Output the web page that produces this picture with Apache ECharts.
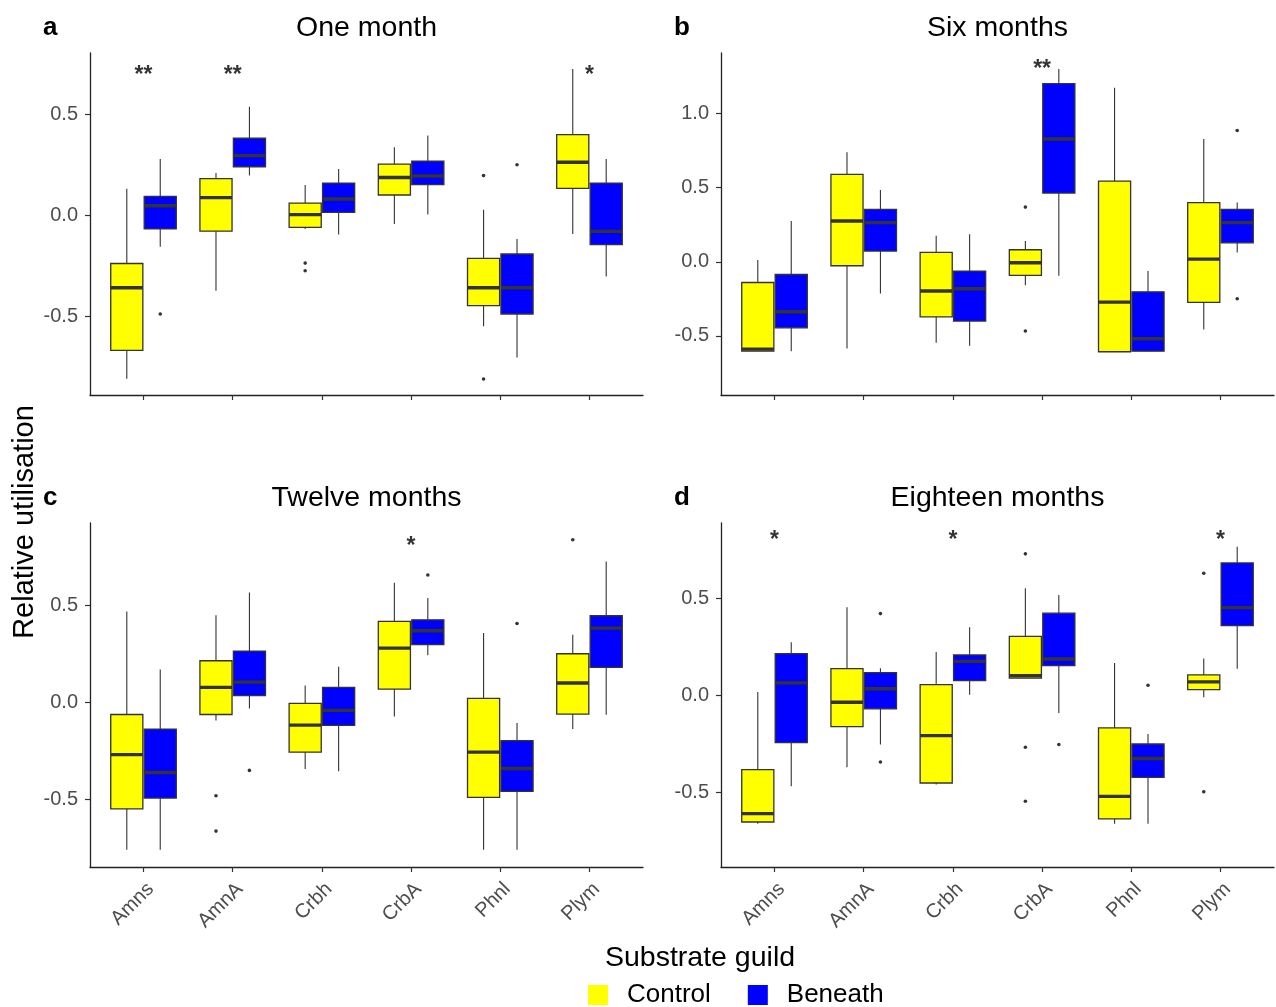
<!DOCTYPE html>
<html>
<head>
<meta charset="utf-8">
<script src="https://cdn.jsdelivr.net/npm/echarts/dist/echarts.min.js"></script>
<style>
html,body{margin:0;padding:0;background:#fff;}
#chart{width:1276px;height:1007px;}
</style>
</head>
<body>
<div id="chart"></div>
<script>
// ---------------- DATA ----------------
const categories = ['Amns', 'AmnA', 'Crbh', 'CrbA', 'Phnl', 'Plym'];
const groups = ['Control', 'Beneath'];
const panelTitles = ['One month', 'Six months', 'Twelve months', 'Eighteen months'];
const panelLetters = ['a', 'b', 'c', 'd'];
const yTicksAC = [-0.5, 0, 0.5];
const yTicksB = [-0.5, 0, 0.5, 1.0];

// each box: [lower whisker, Q1, median, Q3, upper whisker]
const oneMonthControl = [
  [-0.81, -0.67, -0.36, -0.24, 0.13],
  [-0.375, -0.08, 0.086, 0.18, 0.208],
  [-0.069, -0.061, 0.002, 0.059, 0.149],
  [-0.045, 0.099, 0.186, 0.252, 0.335],
  [-0.551, -0.449, -0.36, -0.215, 0.026],
  [-0.094, 0.132, 0.261, 0.398, 0.723]
];
const oneMonthBeneath = [
  [-0.157, -0.069, 0.046, 0.092, 0.277],
  [0.196, 0.239, 0.294, 0.38, 0.536],
  [-0.097, 0.013, 0.079, 0.158, 0.228],
  [0.003, 0.15, 0.193, 0.267, 0.394],
  [-0.705, -0.49, -0.36, -0.193, -0.119],
  [-0.304, -0.147, -0.081, 0.158, 0.277]
];
const oneMonthControlOutliers = [[2, -0.238], [2, -0.276], [4, 0.195], [4, -0.812]];
const oneMonthBeneathOutliers = [[0, -0.49], [4, 0.249]];
const oneMonthSig = ['**', '**', '', '', '', '*'];
const oneMonthSigY = 0.71;

const sixMonthsControl = [
  [-0.604, -0.604, -0.59, -0.14, 0.011],
  [-0.586, -0.027, 0.275, 0.59, 0.739],
  [-0.547, -0.372, -0.198, 0.063, 0.176],
  [-0.158, -0.092, -0.007, 0.081, 0.14],
  [-0.608, -0.608, -0.273, 0.545, 1.176],
  [-0.457, -0.275, 0.018, 0.399, 0.829]
];
const sixMonthsBeneath = [
  [-0.604, -0.446, -0.338, -0.086, 0.275],
  [-0.214, 0.072, 0.264, 0.354, 0.484],
  [-0.568, -0.401, -0.182, -0.063, 0.185],
  [-0.095, 0.464, 0.829, 1.203, 1.302],
  [-0.604, -0.604, -0.52, -0.203, -0.063],
  [0.063, 0.128, 0.264, 0.354, 0.401]
];
const sixMonthsControlOutliers = [[3, 0.369], [3, -0.468]];
const sixMonthsBeneathOutliers = [[5, 0.887], [5, -0.25]];
const sixMonthsSig = ['', '', '', '**', '', ''];
const sixMonthsSigY = 1.322;

const twelveMonthsControl = [
  [-0.761, -0.55, -0.271, -0.064, 0.467],
  [-0.095, -0.064, 0.076, 0.213, 0.448],
  [-0.345, -0.258, -0.119, -0.007, 0.086],
  [-0.074, 0.067, 0.278, 0.416, 0.615],
  [-0.761, -0.491, -0.258, 0.019, 0.356],
  [-0.139, -0.062, 0.098, 0.249, 0.347]
];
const twelveMonthsBeneath = [
  [-0.761, -0.495, -0.363, -0.139, 0.168],
  [-0.033, 0.033, 0.103, 0.263, 0.565],
  [-0.357, -0.12, -0.043, 0.076, 0.182],
  [0.241, 0.296, 0.368, 0.424, 0.536],
  [-0.761, -0.46, -0.342, -0.199, -0.108],
  [-0.065, 0.179, 0.381, 0.445, 0.725]
];
const twelveMonthsControlOutliers = [[1, -0.483], [1, -0.665], [5, 0.837]];
const twelveMonthsBeneathOutliers = [[1, -0.352], [3, 0.655], [4, 0.405]];
const twelveMonthsSig = ['', '', '', '*', '', ''];
const twelveMonthsSigY = 0.82;

const eighteenMonthsControl = [
  [-0.662, -0.653, -0.61, -0.383, 0.017],
  [-0.371, -0.162, -0.036, 0.137, 0.454],
  [-0.46, -0.452, -0.208, 0.055, 0.223],
  [0.088, 0.088, 0.101, 0.304, 0.552],
  [-0.662, -0.637, -0.521, -0.168, 0.167],
  [-0.01, 0.029, 0.069, 0.105, 0.189]
];
const eighteenMonthsBeneath = [
  [-0.469, -0.244, 0.064, 0.215, 0.273],
  [-0.253, -0.07, 0.034, 0.117, 0.139],
  [0.003, 0.076, 0.175, 0.208, 0.351],
  [-0.091, 0.153, 0.187, 0.423, 0.517],
  [-0.662, -0.423, -0.326, -0.251, -0.199],
  [0.137, 0.359, 0.452, 0.682, 0.765]
];
const eighteenMonthsControlOutliers = [[3, 0.729], [3, -0.268], [3, -0.546], [5, 0.629], [5, -0.497]];
const eighteenMonthsBeneathOutliers = [[1, 0.421], [1, -0.344], [3, -0.254], [4, 0.052]];
const eighteenMonthsSig = ['*', '', '*', '', '', '*'];
const eighteenMonthsSigY = 0.82;

// ---------------- LAYOUT / STYLE ----------------
const FONT = '"Liberation Sans", Arial, sans-serif';
const COLORS = { Control: '#FFFF00', Beneath: '#0000FF' };
const DODGE = 0.1875;
const BOX_W = 0.36;
const GRID_W = 553;
const panels = [
  { control: oneMonthControl, beneath: oneMonthBeneath, cOut: oneMonthControlOutliers, bOut: oneMonthBeneathOutliers,
    sig: oneMonthSig, sigY: oneMonthSigY, left: 90, top: 53, height: 342, yMin: -0.891, yMax: 0.802, ticks: yTicksAC, showX: false },
  { control: sixMonthsControl, beneath: sixMonthsBeneath, cOut: sixMonthsControlOutliers, bOut: sixMonthsBeneathOutliers,
    sig: sixMonthsSig, sigY: sixMonthsSigY, left: 721, top: 53, height: 342, yMin: -0.90, yMax: 1.41, ticks: yTicksB, showX: false },
  { control: twelveMonthsControl, beneath: twelveMonthsBeneath, cOut: twelveMonthsControlOutliers, bOut: twelveMonthsBeneathOutliers,
    sig: twelveMonthsSig, sigY: twelveMonthsSigY, left: 90, top: 523, height: 344, yMin: -0.85, yMax: 0.923, ticks: yTicksAC, showX: true },
  { control: eighteenMonthsControl, beneath: eighteenMonthsBeneath, cOut: eighteenMonthsControlOutliers, bOut: eighteenMonthsBeneathOutliers,
    sig: eighteenMonthsSig, sigY: eighteenMonthsSigY, left: 721, top: 523, height: 344, yMin: -0.885, yMax: 0.888, ticks: yTicksAC, showX: true }
];

function makeRenderer(offset, color) {
  return function (params, api) {
    const xc = api.value(0) + offset;
    const low = api.value(1), q1 = api.value(2), med = api.value(3), q3 = api.value(4), high = api.value(5);
    const pTop = api.coord([xc, high]);
    const pBot = api.coord([xc, low]);
    const pA = api.coord([xc - BOX_W / 2, q3]);
    const pB = api.coord([xc + BOX_W / 2, q1]);
    const mL = api.coord([xc - BOX_W / 2, med]);
    const mR = api.coord([xc + BOX_W / 2, med]);
    return {
      type: 'group',
      children: [
        { type: 'line', shape: { x1: pTop[0], y1: pTop[1], x2: pBot[0], y2: pBot[1] }, style: { stroke: '#333333', lineWidth: 1.1 } },
        { type: 'rect', shape: { x: pA[0], y: pA[1], width: pB[0] - pA[0], height: pB[1] - pA[1] },
          style: { fill: color, stroke: '#333333', lineWidth: 1.3 } },
        { type: 'line', shape: { x1: mL[0], y1: mL[1], x2: mR[0], y2: mR[1] }, style: { stroke: '#333333', lineWidth: 3.4 } }
      ]
    };
  };
}

const grid = [], xAxis = [], yAxis = [], series = [], graphic = [];
panels.forEach((p, k) => {
  grid.push({ left: p.left, top: p.top, width: GRID_W, height: p.height });
  xAxis.push({
    type: 'value', gridIndex: k, min: -0.6, max: 5.6,
    splitLine: { show: false },
    axisLine: { show: true, onZero: false, lineStyle: { color: '#222', width: 1.3 } },
    axisTick: { show: true, length: 5, customValues: categories.map((c, i) => i), lineStyle: { color: '#333', width: 1.2 } },
    axisLabel: {
      show: p.showX, customValues: categories.map((c, i) => i), formatter: v => categories[Math.round(v)],
      rotate: 45, margin: 12, verticalAlign: 'top', fontSize: 20, color: '#4D4D4D', fontFamily: FONT
    }
  });
  yAxis.push({
    type: 'value', gridIndex: k, min: p.yMin, max: p.yMax,
    splitLine: { show: false },
    axisLine: { show: true, onZero: false, lineStyle: { color: '#222', width: 1.3 } },
    axisTick: { show: true, length: 5, customValues: p.ticks, lineStyle: { color: '#333', width: 1.2 } },
    axisLabel: { customValues: p.ticks, formatter: v => v.toFixed(1), margin: 12, fontSize: 20, color: '#4D4D4D', fontFamily: FONT }
  });
  const cx = p.left + GRID_W / 2;
  const ty = p.top - 25;
  graphic.push({ type: 'text', x: cx, y: ty,
    style: { text: panelTitles[k], fontSize: 28.5, fill: '#000', fontFamily: FONT, align: 'center', verticalAlign: 'middle' } });
  graphic.push({ type: 'text', x: p.left - 47, y: ty,
    style: { text: panelLetters[k], fontSize: 26, fontWeight: 'bold', fill: '#000', fontFamily: FONT, align: 'left', verticalAlign: 'middle' } });

  [['Control', p.control, -DODGE], ['Beneath', p.beneath, DODGE]].forEach(([name, arr, off]) => {
    series.push({
      type: 'custom', name: name, xAxisIndex: k, yAxisIndex: k,
      itemStyle: { color: COLORS[name] },
      renderItem: makeRenderer(off, COLORS[name]),
      encode: { x: 0, y: [1, 2, 3, 4, 5] },
      data: arr.map((v, i) => [i].concat(v)),
      silent: true
    });
  });
  [[p.cOut, -DODGE], [p.bOut, DODGE]].forEach(([arr, off]) => {
    series.push({
      type: 'scatter', name: 'outliers', xAxisIndex: k, yAxisIndex: k,
      symbol: 'circle', symbolSize: 3.6, itemStyle: { color: '#000' }, silent: true,
      data: arr.map(d => [d[0] + off, d[1]])
    });
  });
  series.push({
    type: 'scatter', name: 'sig', xAxisIndex: k, yAxisIndex: k, symbolSize: 0, silent: true,
    data: p.sig.map((s, i) => [i, p.sigY, s]).filter(d => d[2] !== ''),
    label: { show: true, position: 'inside', offset: [0, 4], formatter: q => q.value[2],
      fontSize: 23, fontWeight: 'bold', color: '#000', fontFamily: FONT }
  });
});

graphic.push({ type: 'text', x: 700, y: 958,
  style: { text: 'Substrate guild', fontSize: 28.5, fill: '#000', fontFamily: FONT, align: 'center', verticalAlign: 'middle' } });
graphic.push({ type: 'text', x: 25, y: 522, rotation: Math.PI / 2,
  style: { text: 'Relative utilisation', fontSize: 29, fill: '#000', fontFamily: FONT, align: 'center', verticalAlign: 'middle' } });

const option = {
  animation: false,
  backgroundColor: '#fff',
  grid: grid, xAxis: xAxis, yAxis: yAxis, series: series,
  legend: {
    data: groups, left: 588, top: 982, orient: 'horizontal', padding: 0,
    icon: 'rect', itemWidth: 20, itemHeight: 20, itemGap: 37, selectedMode: false,
    textStyle: { fontSize: 26, color: '#000', fontFamily: FONT, padding: [0, 0, 0, 14] }
  },
  graphic: graphic
};

const chart = echarts.init(document.getElementById('chart'), null, { renderer: 'canvas' });
chart.setOption(option);
</script>
</body>
</html>
